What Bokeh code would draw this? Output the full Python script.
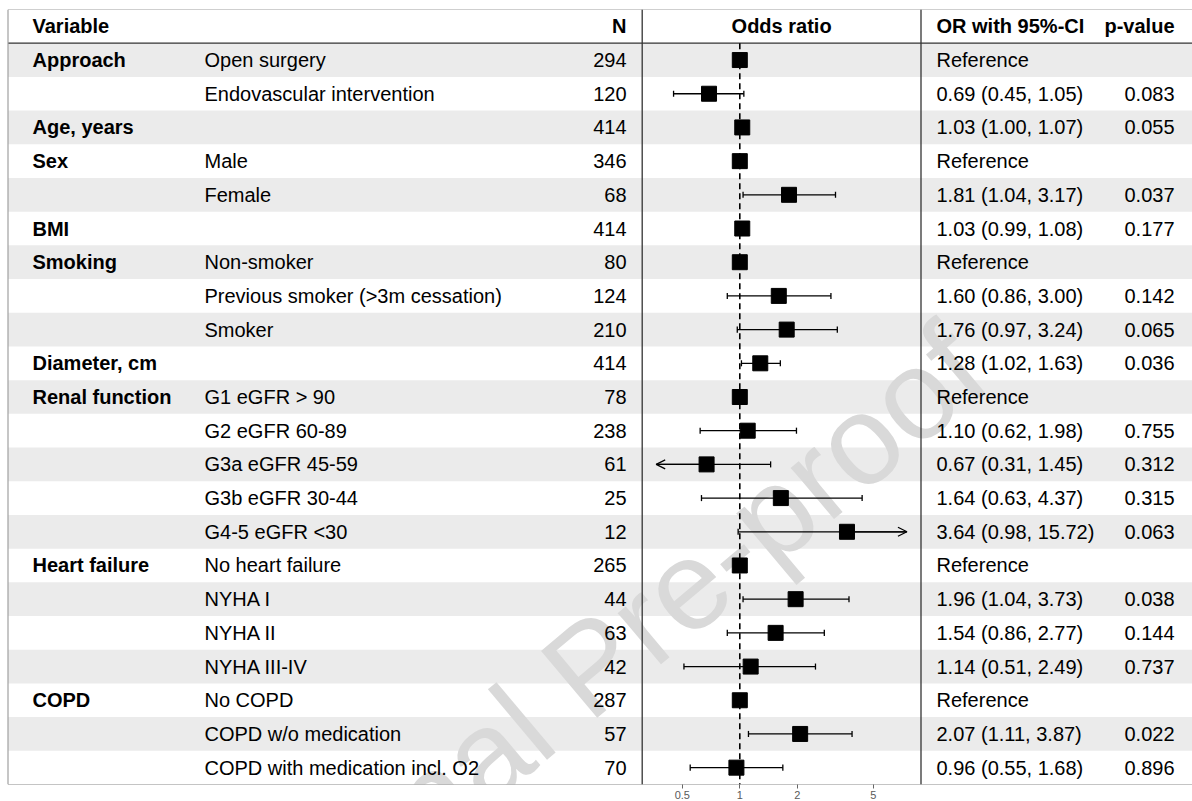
import math
from bokeh.plotting import figure
from bokeh.models import (Range1d, LogScale, LinearAxis, FixedTicker, BasicTickFormatter,
                          Span, BoxAnnotation, Arrow, OpenHead, Label, ColumnDataSource)
from bokeh.core.properties import value
from bokeh.embed import file_html
from bokeh.resources import INLINE

# ---------------- data ----------------
variables = ["Approach", "", "Age, years", "Sex", "", "BMI", "Smoking", "", "",
             "Diameter, cm", "Renal function", "", "", "", "", "Heart failure", "", "", "",
             "COPD", "", ""]
levels = ["Open surgery", "Endovascular intervention", "", "Male", "Female", "",
          "Non-smoker", "Previous smoker (>3m cessation)", "Smoker", "",
          "G1 eGFR > 90", "G2 eGFR 60-89", "G3a eGFR 45-59", "G3b eGFR 30-44", "G4-5 eGFR <30",
          "No heart failure", "NYHA I", "NYHA II", "NYHA III-IV",
          "No COPD", "COPD w/o medication", "COPD with medication incl. O2"]
n_obs = [294, 120, 414, 346, 68, 414, 80, 124, 210, 414, 78, 238, 61, 25, 12,
         265, 44, 63, 42, 287, 57, 70]
odds = [1.00, 0.69, 1.03, 1.00, 1.81, 1.03, 1.00, 1.60, 1.76, 1.28, 1.00, 1.10, 0.67, 1.64, 3.64,
        1.00, 1.96, 1.54, 1.14, 1.00, 2.07, 0.96]
ci_low = [None, 0.45, 1.00, None, 1.04, 0.99, None, 0.86, 0.97, 1.02, None, 0.62, 0.31, 0.63, 0.98,
          None, 1.04, 0.86, 0.51, None, 1.11, 0.55]
ci_high = [None, 1.05, 1.07, None, 3.17, 1.08, None, 3.00, 3.24, 1.63, None, 1.98, 1.45, 4.37, 15.72,
           None, 3.73, 2.77, 2.49, None, 3.87, 1.68]
p_values = [None, 0.083, 0.055, None, 0.037, 0.177, None, 0.142, 0.065, 0.036, None, 0.755, 0.312,
            0.315, 0.063, None, 0.038, 0.144, 0.737, None, 0.022, 0.896]
headers = ["Variable", "N", "Odds ratio", "OR with 95%-CI", "p-value"]
axis_ticks = [0.5, 1, 2, 5]

# ---------------- layout constants ----------------
FONT_NAME = "Liberation Sans"
FONT = value(FONT_NAME)
FS = "20px"
W, H = 1192, 801
X_LEFT = 7.5
X_VAR, X_LEVEL, X_N, X_OR, X_P = 32, 204, 626, 936, 1174
PANEL_L, PANEL_R = 641.7, 920.5
ONE_X, DECADE = 739.3, 191.0       # pixel position of OR=1 and pixels per decade
CLIP_LO, CLIP_HI = 0.365, 7.5

rows = list(range(1, len(levels) + 1))
nrow = len(rows)

p = figure(width=W, height=H, x_range=Range1d(0, W), y_range=Range1d(nrow + 0.5, -0.5),
           x_axis_type=None, y_axis_type=None, output_backend="svg", toolbar_location=None,
           min_border_left=0, min_border_right=0, min_border_top=9, min_border_bottom=0,
           outline_line_color=None, background_fill_color="white", border_fill_color="white")
p.extra_x_ranges = {"or": Range1d(10 ** ((0 - ONE_X) / DECADE), 10 ** ((W - ONE_X) / DECADE))}
p.extra_x_scales = {"or": LogScale()}

# row shading
for r in rows:
    if r % 2 == 1:
        p.add_layout(BoxAnnotation(top=r - 0.5, bottom=r + 0.5, left=X_LEFT, fill_color="#ebebeb",
                                   fill_alpha=1, line_color=None, level="underlay"))

# watermark
p.add_layout(Label(x=966, y=9.62, text="Journal Pre-proof", angle=40, angle_units="deg",
                   text_align="right", text_baseline="alphabetic", text_font=FONT_NAME,
                   text_font_size="127px", text_color="#d9d9d9", text_alpha=1.0, level="underlay"))

# table lines
p.segment(x0=[X_LEFT, X_LEFT, X_LEFT], x1=[W, W, W], y0=[-0.5, 0.5, nrow + 0.5],
          y1=[-0.5, 0.5, nrow + 0.5], line_color=["#a0a0a0", "#333333", "#8a8a8a"], line_width=1.2)
p.segment(x0=[X_LEFT], x1=[X_LEFT], y0=[-0.5], y1=[nrow + 0.5], line_color="#a0a0a0", line_width=1.2)
p.segment(x0=[PANEL_L, PANEL_R], x1=[PANEL_L, PANEL_R], y0=[-0.5, -0.5], y1=[nrow + 0.5, nrow + 0.5],
          line_color="#333333", line_width=1.3)

# header
hdr = dict(text_font=FONT, text_font_size=FS, text_font_style="bold", text_color="black",
           text_baseline="middle")
p.text(x=[X_VAR], y=[0], text=[headers[0]], text_align="left", **hdr)
p.text(x=[X_N], y=[0], text=[headers[1]], text_align="right", **hdr)
p.text(x=[(PANEL_L + PANEL_R) / 2], y=[0], text=[headers[2]], text_align="center", **hdr)
p.text(x=[X_OR], y=[0], text=[headers[3]], text_align="left", **hdr)
p.text(x=[X_P], y=[0], text=[headers[4]], text_align="right", **hdr)

# table body
or_text = ["Reference" if lo is None else f"{o:.2f} ({lo:.2f}, {hi:.2f})"
           for o, lo, hi in zip(odds, ci_low, ci_high)]
p_text = ["" if pv is None else f"{pv:.3f}" for pv in p_values]
src = ColumnDataSource(dict(y=rows, var=variables, lev=levels, n=[str(v) for v in n_obs],
                            ort=or_text, pt=p_text))
body = dict(text_font=FONT, text_font_size=FS, text_color="black", text_baseline="middle", source=src)
p.text(x=X_VAR, y="y", text="var", text_align="left", text_font_style="bold", **body)
p.text(x=X_LEVEL, y="y", text="lev", text_align="left", **body)
p.text(x=X_N, y="y", text="n", text_align="right", **body)
p.text(x=X_OR, y="y", text="ort", text_align="left", **body)
p.text(x=X_P, y="y", text="pt", text_align="right", **body)

# forest panel
p.segment(x0=[1], y0=[0.5], x1=[1], y1=[nrow + 0.5], x_range_name="or",
          line_color="black", line_width=1.6, line_dash="6 4")

ci_rows = [r for r, lo in zip(rows, ci_low) if lo is not None]
ci_lo = [lo for lo in ci_low if lo is not None]
ci_hi = [hi for hi in ci_high if hi is not None]
ci_est = [o for o, lo in zip(odds, ci_low) if lo is not None]
seg = ColumnDataSource(dict(y=ci_rows, x0=[max(v, CLIP_LO) for v in ci_lo],
                            x1=[min(v, CLIP_HI) for v in ci_hi]))
p.segment(x0="x0", y0="y", x1="x1", y1="y", source=seg, x_range_name="or",
          line_color="black", line_width=1.3)

cap_x = [v for v in ci_lo if v >= CLIP_LO] + [v for v in ci_hi if v <= CLIP_HI]
cap_y = [r for r, v in zip(ci_rows, ci_lo) if v >= CLIP_LO] + \
        [r for r, v in zip(ci_rows, ci_hi) if v <= CLIP_HI]
caps = ColumnDataSource(dict(x=cap_x, y0=[y - 0.09 for y in cap_y], y1=[y + 0.09 for y in cap_y]))
p.segment(x0="x", y0="y0", x1="x", y1="y1", source=caps, x_range_name="or",
          line_color="black", line_width=1.3)

arr_x0, arr_x1, arr_y = [], [], []
for r, o, lo, hi in zip(ci_rows, ci_est, ci_lo, ci_hi):
    if lo < CLIP_LO:
        arr_x0.append(o); arr_x1.append(CLIP_LO); arr_y.append(r)
    if hi > CLIP_HI:
        arr_x0.append(o); arr_x1.append(CLIP_HI); arr_y.append(r)
arr_src = ColumnDataSource(dict(x0=arr_x0, x1=arr_x1, y=arr_y))
p.add_layout(Arrow(source=arr_src, x_start="x0", y_start="y", x_end="x1", y_end="y",
                   x_range_name="or", line_color="black", line_width=1.3,
                   end=OpenHead(size=9, line_color="black", line_width=1.3)))

p.scatter(x=odds, y=rows, marker="square", size=15, x_range_name="or",
          fill_color="black", line_color="black")

# axis
ax = LinearAxis(x_range_name="or", ticker=FixedTicker(ticks=axis_ticks, minor_ticks=[]),
                formatter=BasicTickFormatter())
ax.axis_line_color = None
ax.major_tick_line_color = "#666666"
ax.major_tick_out = 4
ax.major_tick_in = 0
ax.minor_tick_line_color = None
ax.major_label_text_font = FONT_NAME
ax.major_label_text_font_size = "11px"
ax.major_label_text_color = "#5a5a5a"
ax.major_label_standoff = 2
p.add_layout(ax, "below")

open("out.html", "w").write(file_html(p, INLINE))
